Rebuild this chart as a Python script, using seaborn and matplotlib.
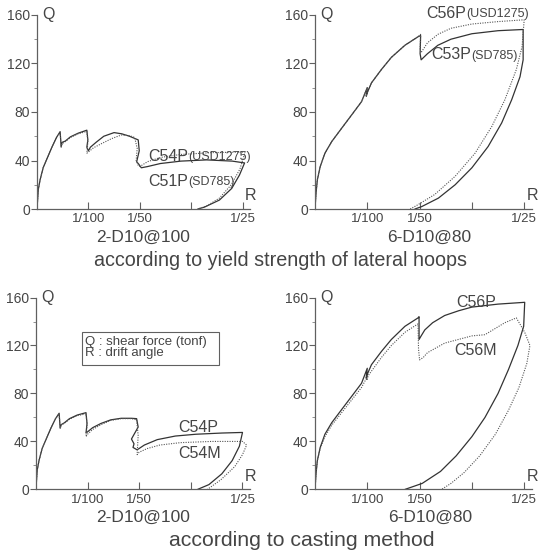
import numpy as np
import matplotlib
matplotlib.use("Agg")
import matplotlib.pyplot as plt
import seaborn as sns
from matplotlib.patches import Rectangle
from matplotlib.ticker import MultipleLocator

# ---- data (R = drift angle, Q = shear force tonf)
# top-left: 2-D10@100, yield strength comparison
tl_c51p_r = [0, .00025, .0006, .0012, .0019, .0029, .0038, .0045, .0046, .0047, .0049, .0055, .0065, .0080,
             .0097, .0099, .0097, .0100, .0104, .0115, .0130, .0150, .0165, .0180, .0197, .0199, .0194, .0198,
             .0203, .0215, .0240, .0280, .0330, .0380, .0404, .0394, .0379, .0355, .0326, .0313]
tl_c51p_q = [0, 16, 24, 34, 41, 51, 59, 63.8, 58, 51.4, 55, 56, 59.5, 62.5, 65, 57, 51, 48, 51, 55, 60, 63,
             62, 60, 57, 48, 39, 37, 34, 35, 37.5, 39.5, 40.5, 39.5, 38, 28, 17, 7.4, 1.6, 0]
tl_c54p_r = [0, .00025, .0006, .0012, .0019, .0029, .0038, .0045, .0046, .0047, .0049, .0055, .0065, .0080,
             .0097, .0099, .0097, .0100, .0110, .0126, .0145, .0164, .0180, .0190, .0195, .0193, .0197, .0200,
             .0215, .0240, .0280, .0340, .0405, .0395, .0378, .0355, .0330, .0313]
tl_c54p_q = [0, 16, 24, 34, 41, 51, 59, 63, 57, 51, 54, 55.5, 59, 62, 64, 55, 46, 47, 50.5, 54, 58, 61,
             60.5, 59, 50, 40, 36, 35, 39, 42.5, 45, 46.5, 47, 33, 20, 9, 2.5, 0]

# top-right: 6-D10@80, yield strength comparison
tr_c53p_r = [0, .0002, .00045, .001, .0019, .0032, .0051, .0070, .0089, .0100, .0098, .0101, .0108, .0127,
             .0146, .0172, .0197, .0202, .0201, .0203, .0215, .0235, .0260, .0300, .0350, .0398, .0398, .0392,
             .0376, .0357, .0331, .0300, .0268, .0236, .0204, .0191]
tr_c53p_q = [0, 13, 24, 35, 46, 55.6, 66.6, 77.5, 88.5, 100, 93, 97, 104, 115, 125, 135, 142, 143, 128, 123,
             128, 135, 140, 144.5, 147, 148, 123, 109, 90, 71, 51.5, 34, 20, 9, 2, 0]
tr_c56p_r = [0, .0002, .00045, .001, .0019, .0032, .0051, .0070, .0089, .0100, .0098, .0101, .0108, .0127,
             .0146, .0172, .0197, .0202, .0201, .0203, .0215, .0235, .0260, .0300, .0350, .0400, .0396, .0385,
             .0363, .0338, .0306, .0268, .0229, .0197, .0182]
tr_c56p_q = [0, 13, 24, 35, 46, 55.6, 66.6, 77.5, 88.5, 100, 93, 97, 104, 115, 125, 135, 142, 144, 131, 129,
             137, 144, 149, 152.5, 154.5, 156, 134, 115, 90, 68, 46, 27, 12, 3.6, 0]

# bottom-left: 2-D10@100, casting method comparison
bl_c54p_r = [0, .00025, .0006, .0012, .0019, .0029, .0038, .0045, .0046, .0047, .0049, .0055, .0065, .0080,
             .0097, .0099, .0097, .0100, .0110, .0126, .0145, .0165, .0185, .0195, .0198, .0185, .0190, .0188,
             .0196, .0210, .0235, .0270, .0310, .0360, .0400, .0394, .0380, .0360, .0335, .0313]
bl_c54p_q = [0, 16, 24, 34, 41, 51, 59, 63.5, 57, 51, 54, 55.5, 59, 62, 64, 55, 47, 48, 51.5, 55, 58, 59.3,
             59.3, 59, 52, 42, 38, 35, 33, 37, 41.5, 44.5, 46, 47, 47.5, 36, 24, 13, 4, 0]
bl_c54m_r = [0, .00025, .0006, .0012, .0019, .0029, .0038, .0045, .0046, .0047, .0049, .0055, .0065, .0080,
             .0097, .0099, .0097, .0100, .0110, .0126, .0145, .0165, .0185, .0195, .0198, .0196, .0200, .0215,
             .0240, .0280, .0340, .0400, .0408, .0400, .0385, .0358, .0332]
bl_c54m_q = [0, 16, 24, 34, 41, 51, 59, 63, 57, 51, 54, 55, 58.5, 61.5, 63, 53, 44, 46, 50, 54, 57.5, 59,
             59, 58, 45, 29, 31, 34, 37, 39, 40, 40, 37, 29, 19, 8, 0]

# bottom-right: 6-D10@80, casting method comparison
br_c56p_r = [0, .0002, .00045, .001, .0019, .0032, .0051, .0070, .0089, .0100, .0098, .0101, .0108, .0127,
             .0146, .0172, .0197, .0199, .0199, .0203, .0210, .0225, .0248, .0275, .0300, .0350, .0401, .0399,
             .0388, .0370, .0350, .0325, .0300, .0270, .0240, .0205, .0172]
br_c56p_q = [0, 13, 24, 35, 46, 55.6, 66.6, 77.5, 88.5, 101, 93, 97, 104, 115, 125, 136, 143, 144, 125, 128,
             133, 139, 145, 149, 152, 154.5, 156, 136, 120, 100, 80, 60, 44, 28, 15, 5, 0]
br_c56m_r = [0, .0002, .00045, .001, .0019, .0032, .0051, .0070, .0089, .0100, .0099, .0102, .0127, .0146,
             .0172, .0197, .0198, .0200, .0207, .0215, .0248, .0300, .0325, .0363, .0385, .0401, .0411, .0405,
             .0390, .0370, .0345, .0315, .0285, .0260, .0242]
br_c56m_q = [0, 13, 24, 34, 44, 53.5, 64, 74.5, 85, 94, 91, 95, 110, 120, 131, 138, 117, 108, 110, 114, 122,
             128, 129, 139, 143, 131, 120, 105, 85, 66, 46, 28, 14, 5, 0]

x_ticks = [0.01, 0.02, 0.03, 0.04]
x_tick_labels = ["1/100", "1/50", "", "1/25"]
y_ticks = [0, 40, 80, 120, 160]

LINE = "#333333"
TEXT = "#454545"

sns.set_style("white")
plt.rcParams["font.family"] = ["Liberation Sans", "DejaVu Sans"]


def setup_axes(ax):
    ax.set_xlim(0, 0.0415)
    ax.set_ylim(0, 160)
    sns.despine(ax=ax)
    for s in ("left", "bottom"):
        ax.spines[s].set_color("#606060")
        ax.spines[s].set_linewidth(0.9)
    ax.set_xticks(x_ticks)
    ax.set_xticklabels(x_tick_labels)
    ax.set_yticks(y_ticks)
    ax.yaxis.set_minor_locator(MultipleLocator(20))
    ax.tick_params(axis="x", direction="in", length=5, width=0.8, color="#606060",
                   labelsize=9.5, labelcolor=TEXT, pad=3, bottom=True)
    ax.tick_params(axis="y", which="major", direction="out", length=4, width=0.8, color="#606060",
                   labelsize=10, labelcolor=TEXT, pad=1, left=True)
    ax.tick_params(axis="y", which="minor", direction="out", length=2, width=0.6, color="#808080", left=True)
    ax.set_xlabel("")
    ax.set_ylabel("")
    ax.text(0.0011, 160, "Q", fontsize=11.5, color=TEXT, va="center", ha="left")
    ax.text(0.0416, 11, "R", fontsize=11.5, color=TEXT, va="center", ha="center")


def curve(ax, r, q, dotted=False):
    if dotted:
        sns.lineplot(x=r, y=q, sort=False, estimator=None, ax=ax, color="#555555",
                     lw=0.8, linestyle=(0, (1, 1.2)))
    else:
        sns.lineplot(x=r, y=q, sort=False, estimator=None, ax=ax, color=LINE, lw=0.9)


def label(ax, x, y, main, sub=None):
    t = ax.text(x, y, main, fontsize=11.5, color=TEXT, va="center", ha="left")
    if sub:
        ax.annotate(sub, xy=(1, 0.06), xycoords=t, fontsize=9, color=TEXT, va="bottom", ha="left")


fig = plt.figure(figsize=(5.44, 5.53), dpi=100)

ax_tl = fig.add_axes([0.068, 0.622, 0.392, 0.351])
ax_tr = fig.add_axes([0.579, 0.622, 0.399, 0.351])
ax_bl = fig.add_axes([0.066, 0.115, 0.394, 0.347])
ax_br = fig.add_axes([0.579, 0.115, 0.399, 0.347])

curve(ax_tl, tl_c51p_r, tl_c51p_q)
curve(ax_tl, tl_c54p_r, tl_c54p_q, dotted=True)
setup_axes(ax_tl)
label(ax_tl, 0.0216, 43, "C54P", "(USD1275)")
label(ax_tl, 0.0216, 23, "C51P", "(SD785)")

curve(ax_tr, tr_c53p_r, tr_c53p_q)
curve(ax_tr, tr_c56p_r, tr_c56p_q, dotted=True)
setup_axes(ax_tr)
label(ax_tr, 0.0213, 161.5, "C56P", "(USD1275)")
label(ax_tr, 0.0223, 127, "C53P", "(SD785)")

curve(ax_bl, bl_c54p_r, bl_c54p_q)
curve(ax_bl, bl_c54m_r, bl_c54m_q, dotted=True)
setup_axes(ax_bl)
label(ax_bl, 0.0275, 52, "C54P")
label(ax_bl, 0.0275, 30, "C54M")
ax_bl.add_patch(Rectangle((0.0089, 103.6), 0.0266, 27.7, transform=ax_bl.transData,
                          facecolor="white", edgecolor="#606060", lw=0.8, zorder=3))
ax_bl.text(0.0095, 118.3, "Q : shear force (tonf)\nR : drift angle", fontsize=9.5, color=TEXT,
           va="center", ha="left", linespacing=0.95, zorder=4)

curve(ax_br, br_c56p_r, br_c56p_q)
curve(ax_br, br_c56m_r, br_c56m_q, dotted=True)
setup_axes(ax_br)
label(ax_br, 0.0271, 156, "C56P")
label(ax_br, 0.0267, 116, "C56M")

# panel captions
fig.text(0.263, 1 - 241.7 / 553, "2-D10@100", fontsize=12.5, color=TEXT, ha="center", va="baseline")
fig.text(0.789, 1 - 241.7 / 553, "6-D10@80", fontsize=12.5, color=TEXT, ha="center", va="baseline")
fig.text(0.515, 1 - 266 / 553, "according to yield strength of lateral hoops", fontsize=14.2,
         color=TEXT, ha="center", va="baseline")
fig.text(0.263, 1 - 521.7 / 553, "2-D10@100", fontsize=12.5, color=TEXT, ha="center", va="baseline")
fig.text(0.790, 1 - 521.7 / 553, "6-D10@80", fontsize=12.5, color=TEXT, ha="center", va="baseline")
fig.text(0.554, 1 - 546 / 553, "according to casting method", fontsize=15.3,
         color=TEXT, ha="center", va="baseline")

fig.savefig("out.png", dpi=100, facecolor="white")
